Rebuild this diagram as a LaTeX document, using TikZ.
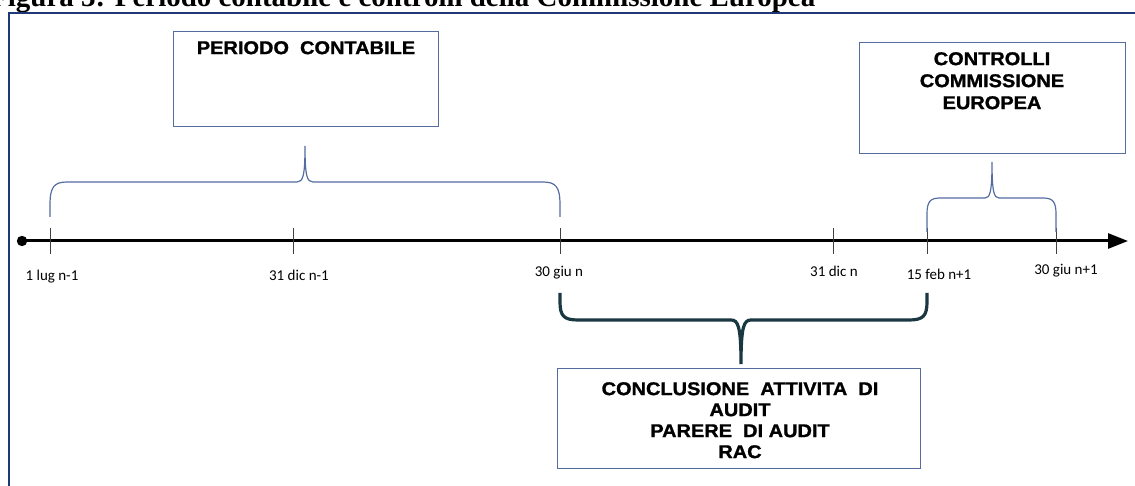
\documentclass[tikz,border=0pt]{standalone}
\usepackage{fontspec}
\usepackage{graphicx}
\setmainfont{Liberation Serif}
\newfontfamily\boxfont[FakeStretch=1.08,FakeBold=1.2]{Liberation Sans}
\newfontfamily\datefont{Carlito}
\usetikzlibrary{arrows.meta}
\definecolor{frameblue}{RGB}{31,56,120}
\definecolor{boxblue}{RGB}{84,108,160}
\definecolor{bracedark}{RGB}{26,56,66}
\tikzset{
  boxshape/.style={draw=boxblue, line width=1.1pt, rectangle, inner sep=0pt, anchor=north west},
  boxtext/.style={font=\boxfont\bfseries\fontsize{18.5}{22}\selectfont, align=center, inner sep=0pt, anchor=north},
  datelabel/.style={font=\datefont\fontsize{15}{16}\selectfont, inner sep=0pt, anchor=base},
  tickline/.style={draw=black!75, line width=1pt},
  bracelight/.style={draw=boxblue, line width=1.2pt},
  bracedarkstyle/.style={draw=bracedark, line width=3.2pt},
}
\begin{document}
\begin{tikzpicture}[x=1pt,y=-1pt]
\useasboundingbox (0,0) rectangle (1135,486);
\clip (0,0) rectangle (1135,486);
% title
\node[anchor=base west, inner sep=0pt, font=\bfseries\fontsize{24}{26}\selectfont] (title) at (-10,7)
  {\resizebox{825pt}{!}{Figura 3: Periodo contabile e controlli della Commissione Europea}};
% frame
\draw[frameblue, line width=2.2pt] (9,495) -- (9,13) -- (1145,13);
% axis
\coordinate (start) at (22,241);
\coordinate (end) at (1128,241);
\draw[line width=3pt, -{Triangle[length=20pt,width=15pt]}] (start) -- (end);
\fill (start) circle (5.2pt);
% ticks
\foreach \n/\x in {t1/50, t2/293, t3/560, t4/833, t5/927, t6/1056} {
  \coordinate (\n) at (\x,241);
  \draw[tickline] (\x,228) -- (\x,254);
}
% date labels
\node[datelabel] (d1) at (52,281) {1 lug n-1};
\node[datelabel] (d2) at (299,281) {31 dic n-1};
\node[datelabel] (d3) at (559,277) {30 giu n};
\node[datelabel] (d4) at (834,277) {31 dic n};
\node[datelabel] (d5) at (939,280) {15 feb n+1};
\node[datelabel] (d6) at (1066,275) {30 giu n+1};
% boxes
\node[boxshape, minimum width=265pt, minimum height=95pt] (pc) at (173,31) {};
\node[boxtext] (pctext) at (306,41) {PERIODO\ \ CONTABILE};
\node[boxshape, minimum width=266pt, minimum height=111pt] (ce) at (859,42) {};
\node[boxtext] (cetext) at (992,52) {CONTROLLI\\COMMISSIONE\\EUROPEA};
\node[boxshape, minimum width=363pt, minimum height=100pt] (ca) at (557,368) {};
\node[boxtext, font=\boxfont\bfseries\fontsize{18.5}{21}\selectfont] (catext) at (740,382)
  {CONCLUSIONE\ \ ATTIVITA\ \ DI\\AUDIT\\PARERE\ \ DI AUDIT\\RAC};
% brace 1
\draw[bracelight] (50,217) -- (50,205) .. controls (50,187) and (54,182) .. (67,182)
  -- (297,182) .. controls (303,182) and (305,176) .. (305,146)
  .. controls (305,176) and (307,182) .. (313,182)
  -- (543,182) .. controls (556,182) and (560,187) .. (560,205) -- (560,217);
% brace 2
\draw[bracelight] (927,232) -- (927,214) .. controls (927,202) and (930,198) .. (940,198)
  -- (985,198) .. controls (990,198) and (992,192) .. (992,162)
  .. controls (992,192) and (994,198) .. (999,198)
  -- (1043,198) .. controls (1053,198) and (1056,202) .. (1056,214) -- (1056,232);
% brace 3
\draw[bracedarkstyle] (560,293) -- (560,302) .. controls (560,316) and (564,320) .. (578,320)
  -- (731,320) .. controls (738,320) and (741,326) .. (741,364)
  .. controls (741,326) and (744,320) .. (751,320)
  -- (909,320) .. controls (923,320) and (927,316) .. (927,302) -- (927,293);
\end{tikzpicture}
\end{document}
